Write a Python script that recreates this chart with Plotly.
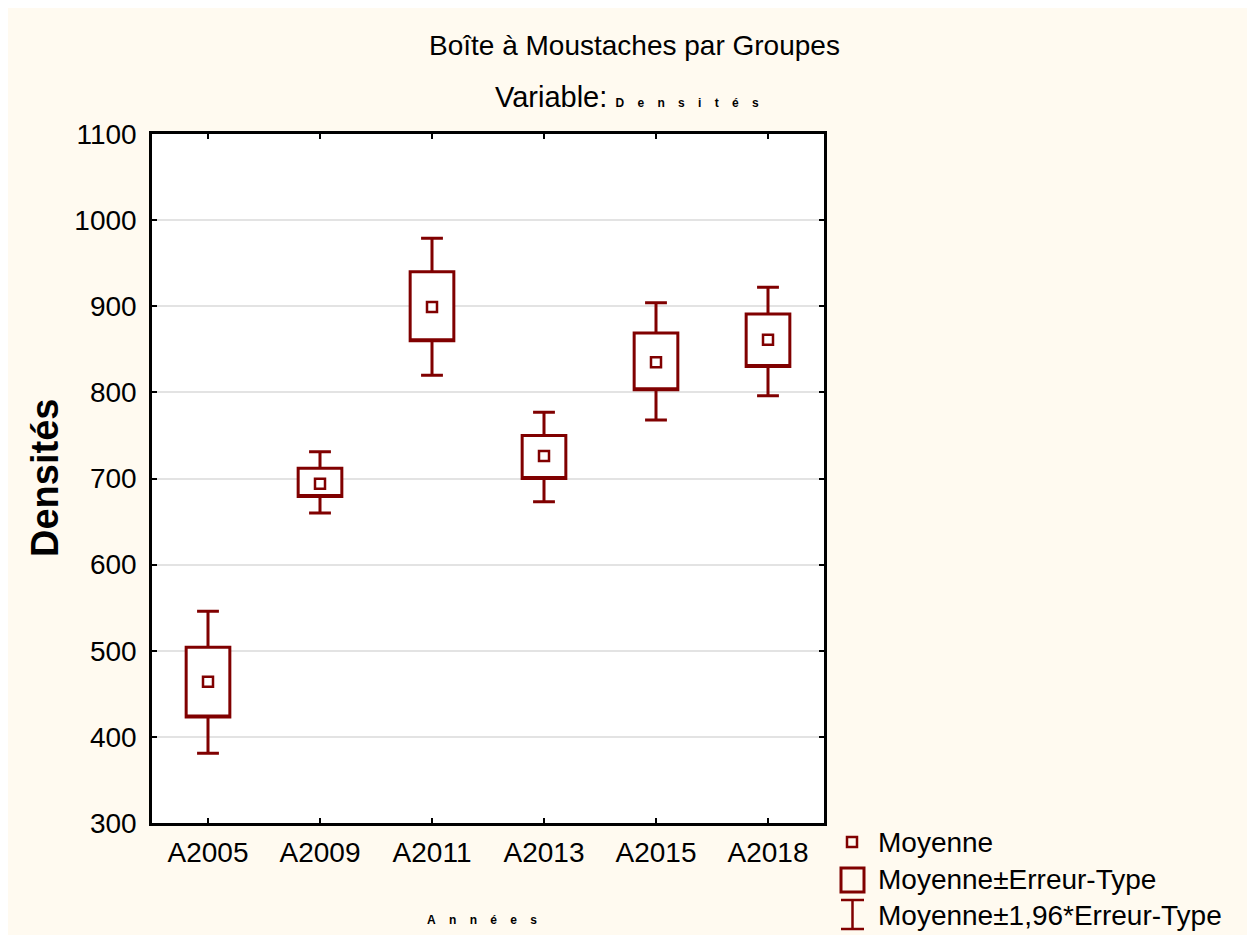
import plotly.graph_objects as go

# ---- data ----
categories = ["A2005", "A2009", "A2011", "A2013", "A2015", "A2018"]
means = [464, 694, 899, 726, 835, 861]
se_low = [423, 679, 860, 700, 803, 830]      # Moyenne - Erreur-Type
se_high = [504, 712, 940, 750, 869, 891]     # Moyenne + Erreur-Type
ci_low = [381, 660, 820, 673, 768, 796]      # Moyenne - 1,96*Erreur-Type
ci_high = [546, 731, 979, 777, 904, 922]     # Moyenne + 1,96*Erreur-Type
y_ticks = [300, 400, 500, 600, 700, 800, 900, 1000, 1100]

RED = "#800000"
CREAM = "#FFFAF0"
FONT = "Liberation Sans, Arial, sans-serif"

OFF = 8                      # page body margin
FIG_W, FIG_H = 1242, 927
# plot-area frame in screen pixels
L, R, T, B = 152, 824, 134, 823
W, H = R - L, B - T


def px(x):
    return (x - L) / W


def py(y):
    return (B - y) / H


fig = go.Figure()

fig.add_trace(go.Box(
    x=categories,
    q1=se_low,
    median=se_low,
    q3=se_high,
    lowerfence=ci_low,
    upperfence=ci_high,
    width=0.39,
    whiskerwidth=0.5,
    fillcolor="white",
    line=dict(color=RED, width=3),
    boxpoints=False,
    hoverinfo="skip",
    showlegend=False,
))

fig.add_trace(go.Scatter(
    x=categories,
    y=means,
    mode="markers",
    marker=dict(symbol="square-open", size=10, color=RED, line=dict(color=RED, width=2.5)),
    hoverinfo="skip",
    showlegend=False,
))

sp = "\u00a0" * 4
shapes = [
    # legend symbols
    dict(type="rect", xref="paper", yref="paper", x0=px(847), x1=px(857), y0=py(847), y1=py(837),
         line=dict(color=RED, width=2.5), fillcolor="rgba(0,0,0,0)"),
    dict(type="rect", xref="paper", yref="paper", x0=px(841), x1=px(864), y0=py(892), y1=py(868),
         line=dict(color=RED, width=3), fillcolor="rgba(0,0,0,0)"),
    dict(type="line", xref="paper", yref="paper", x0=px(852.5), x1=px(852.5), y0=py(929), y1=py(900),
         line=dict(color=RED, width=2.5)),
    dict(type="line", xref="paper", yref="paper", x0=px(841), x1=px(864), y0=py(900), y1=py(900),
         line=dict(color=RED, width=2.5)),
    dict(type="line", xref="paper", yref="paper", x0=px(841), x1=px(864), y0=py(929), y1=py(929),
         line=dict(color=RED, width=2.5)),
]

annotations = [
    dict(text="Boîte à Moustaches par Groupes", xref="paper", yref="paper", x=px(634), y=py(46),
         xanchor="center", yanchor="middle", showarrow=False, font=dict(size=28, color="black")),
    dict(text="Variable: <span style='font-size:12px'><b>" + sp.join("Densités") + "</b></span>",
         xref="paper", yref="paper", x=px(627), y=py(97),
         xanchor="center", yanchor="middle", showarrow=False, font=dict(size=29, color="black")),
    dict(text="<b>" + sp.join("Années") + "</b>", xref="paper", yref="paper", x=px(482), y=py(920),
         xanchor="center", yanchor="middle", showarrow=False, font=dict(size=12, color="black")),
    dict(text="<b>Densités</b>", xref="paper", yref="paper", x=px(45), y=py(478), textangle=-90,
         xanchor="center", yanchor="middle", showarrow=False, font=dict(size=38, color="black")),
    dict(text="Moyenne", xref="paper", yref="paper", x=px(876), y=py(842),
         xanchor="left", yanchor="middle", showarrow=False, font=dict(size=28, color="black")),
    dict(text="Moyenne±Erreur-Type", xref="paper", yref="paper", x=px(876), y=py(879),
         xanchor="left", yanchor="middle", showarrow=False, font=dict(size=28, color="black")),
    dict(text="Moyenne±1,96*Erreur-Type", xref="paper", yref="paper", x=px(876), y=py(915),
         xanchor="left", yanchor="middle", showarrow=False, font=dict(size=28, color="black")),
]

fig.update_layout(
    width=FIG_W, height=FIG_H,
    margin=dict(l=L - OFF, r=FIG_W - (R - OFF), t=T - OFF, b=FIG_H - (B - OFF), autoexpand=False),
    paper_bgcolor=CREAM,
    plot_bgcolor="white",
    font=dict(family=FONT, color="black"),
    shapes=shapes,
    annotations=annotations,
    showlegend=False,
    xaxis=dict(
        type="category", range=[-0.5, 5.5],
        showline=True, linecolor="black", linewidth=2.5, mirror="ticks",
        ticks="inside", ticklen=5, tickwidth=2, tickcolor="black",
        showgrid=False, tickfont=dict(size=28), ticklabelstandoff=3,
    ),
    yaxis=dict(
        range=[300, 1100], tickvals=y_ticks, ticktext=[str(v) for v in y_ticks],
        showline=True, linecolor="black", linewidth=2.5, mirror="ticks",
        ticks="inside", ticklen=5, tickwidth=2, tickcolor="black",
        showgrid=True, gridcolor="#e3e3e3", gridwidth=1.5, zeroline=False,
        tickfont=dict(size=28), ticklabelstandoff=7,
    ),
)

fig.write_html("out.html")
